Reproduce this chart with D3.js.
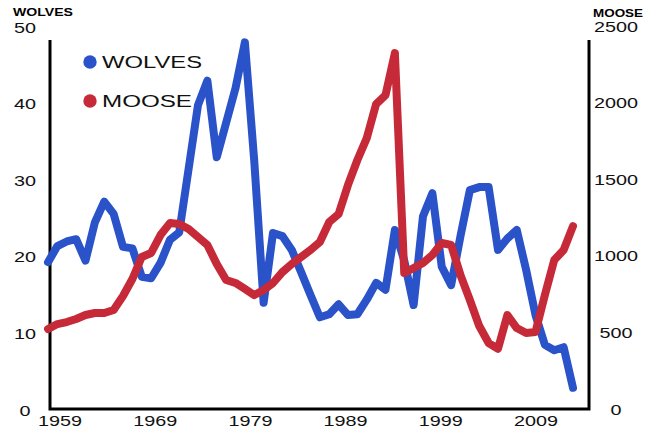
<!DOCTYPE html>
<html>
<head>
<meta charset="utf-8">
<script src="https://cdn.jsdelivr.net/npm/d3@7"></script>
<style>
  html, body { margin: 0; padding: 0; background: #fff; }
  svg { display: block; font-family: "Liberation Sans", Arial, sans-serif; }
</style>
</head>
<body>
<div id="chart"></div>
<script>
// values, one per year
const years = d3.range(1959, 2016)
const wolves = [
  19.3, 21.4, 22, 22.3, 19.5, 24.5, 27.2, 25.6, 21.3, 21.1,
  17.4, 17.2, 19.2, 22.2, 23.2, 31.5, 39.8, 43, 33, 37.5,
  42, 48, 32.5, 14, 23.1, 22.7, 20.9, 18, 15, 12.1,
  12.5, 13.8, 12.4, 12.5, 14.4, 16.6, 15.7, 23.5, 19.5, 13.7,
  25.3, 28.3, 18.7, 16.3, 22.7, 28.7, 29.1, 29.1, 20.9, 22.4,
  23.5, 18.3, 12.4, 8.5, 7.8, 8.2, 2.9
]
const moose = [
  529, 561, 574, 594, 620, 633, 633, 653, 744, 855,
  999, 1025, 1142, 1220, 1214, 1181, 1129, 1077, 953, 849,
  829, 790, 750, 783, 829, 900, 953, 999, 1044, 1097,
  1227, 1279, 1469, 1632, 1775, 1997, 2056, 2330, 894, 927,
  960, 1012, 1090, 1077, 881, 718, 548, 437, 400, 620,
  535, 503, 509, 750, 979, 1044, 1200
]
const wolfTicks = [0, 10, 20, 30, 40, 50]
const mooseTicks = [0, 500, 1000, 1500, 2000, 2500]
const yearLabels = ['1959', '1969', '1979', '1989', '1999', '2009']

const W = 645
const H = 430
const blue = '#2a52c9'
const red = '#c62a38'
const stretch = 1.32   // the source picture is squeezed wide

const x = d3.scaleLinear().domain([1959, 2015]).range([48, 573])
const xLab = d3.scalePoint().domain(yearLabels).range([60, 536])
const yW = d3.scaleLinear().domain([0, 50]).range([410, 27])
const yM = d3.scaleLinear().domain([0, 2500]).range([410, 27])

const svg = d3.select('#chart')
  .append('svg')
  .attr('width', W)
  .attr('height', H)

svg.append('rect')
  .attr('width', W)
  .attr('height', H)
  .attr('fill', '#fff')

// frame: left, bottom, right
svg.append('path')
  .attr('d', 'M50,40V409H589V40')
  .attr('fill', 'none')
  .attr('stroke', '#000')
  .attr('stroke-width', 3)

function label(g, tx, ty, txt, size) {
  g.append('text')
    .attr('transform', `translate(${tx},${ty}) scale(${stretch},1)`)
    .attr('text-anchor', 'middle')
    .attr('font-size', size)
    .attr('fill', '#111')
    .text(txt)
}

const ticks = svg.append('g').attr('class', 'ticks')
wolfTicks.forEach(v => label(ticks, 25, yW(v) + 5.5, v, 15))
mooseTicks.forEach(v => label(ticks, 616, yM(v) + 4.5, v, 15))
yearLabels.forEach(v => label(ticks, xLab(v), 425.5, v, 15))

// axis titles
svg.append('text')
  .attr('x', 13).attr('y', 16)
  .attr('font-size', 10).attr('font-weight', 'bold')
  .attr('textLength', 60).attr('lengthAdjust', 'spacingAndGlyphs')
  .text('WOLVES')
svg.append('text')
  .attr('x', 593).attr('y', 17)
  .attr('font-size', 10).attr('font-weight', 'bold')
  .attr('textLength', 50).attr('lengthAdjust', 'spacingAndGlyphs')
  .text('MOOSE')

// lines
const wolfLine = d3.line()
  .x((d, i) => x(years[i]))
  .y(d => yW(d))
const mooseLine = d3.line()
  .x((d, i) => x(years[i]))
  .y(d => yM(d))

svg.append('path')
  .datum(wolves)
  .attr('d', wolfLine)
  .attr('fill', 'none')
  .attr('stroke', blue)
  .attr('stroke-width', 8)
  .attr('stroke-linejoin', 'round')
  .attr('stroke-linecap', 'round')

svg.append('path')
  .datum(moose)
  .attr('d', mooseLine)
  .attr('fill', 'none')
  .attr('stroke', red)
  .attr('stroke-width', 8)
  .attr('stroke-linejoin', 'round')
  .attr('stroke-linecap', 'round')

// legend
const legend = [
  { name: 'WOLVES', color: blue, cy: 62, len: 100 },
  { name: 'MOOSE', color: red, cy: 101, len: 90 }
]
const lg = svg.append('g').attr('class', 'legend')
lg.selectAll('circle')
  .data(legend)
  .enter()
  .append('circle')
  .attr('cx', 90)
  .attr('cy', d => d.cy)
  .attr('r', 6.7)
  .attr('fill', d => d.color)
lg.selectAll('text')
  .data(legend)
  .enter()
  .append('text')
  .attr('x', 102)
  .attr('y', d => d.cy + 6)
  .attr('font-size', 16)
  .attr('textLength', d => d.len)
  .attr('lengthAdjust', 'spacingAndGlyphs')
  .attr('fill', '#111')
  .text(d => d.name)
</script>
</body>
</html>
